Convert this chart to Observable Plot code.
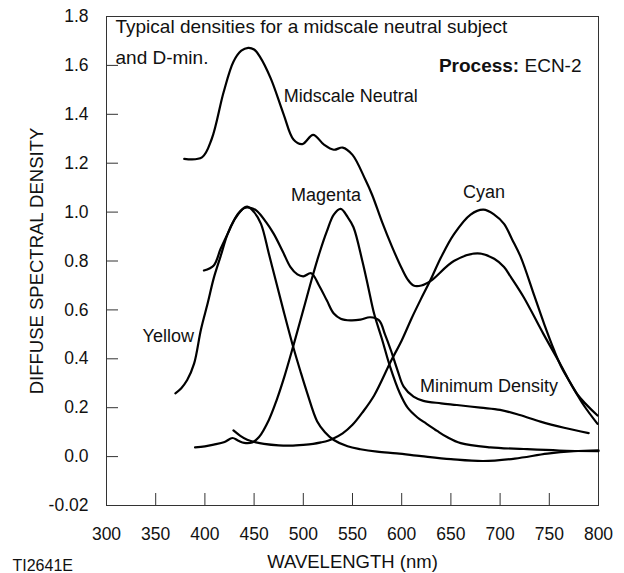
<!DOCTYPE html>
<html>
<head>
<meta charset="utf-8">
<script src="https://cdn.jsdelivr.net/npm/d3@7"></script>
<script src="https://cdn.jsdelivr.net/npm/@observablehq/plot@0.6"></script>
<style>
  body { margin: 0; background: #fff; }
</style>
</head>
<body>
<div id="chart"></div>
<script>
// Axis ticks and labels
const xTicks = [300, 350, 400, 450, 500, 550, 600, 650, 700, 750, 800];
const yTicks = [-0.2, 0, 0.2, 0.4, 0.6, 0.8, 1.0, 1.2, 1.4, 1.6, 1.8];
const yTickLabels = ["-0.02", "0.0", "0.2", "0.4", "0.6", "0.8", "1.0", "1.2", "1.4", "1.6", "1.8"];

// Series: wavelength (nm) and diffuse spectral density
const neutralNm = [379, 397, 407, 419, 429, 437, 444, 450, 456, 467, 480, 490, 499, 510, 521, 531, 540, 550, 563, 570, 580, 590, 600, 606, 612, 620, 630, 653, 677, 694, 704, 711, 724, 744, 761, 778, 799];
const neutralD  = [1.218, 1.224, 1.30, 1.49, 1.615, 1.66, 1.672, 1.665, 1.635, 1.546, 1.40, 1.297, 1.278, 1.316, 1.276, 1.255, 1.264, 1.234, 1.133, 1.07, 0.96, 0.86, 0.77, 0.725, 0.70, 0.70, 0.72, 0.80, 0.831, 0.809, 0.775, 0.734, 0.652, 0.502, 0.38, 0.257, 0.168];

const dminNm = [399, 409, 416, 423, 431, 440, 447, 453, 462, 470, 479, 487, 494, 500, 508, 516, 524, 531, 538, 548, 558, 568, 577, 583, 589, 596, 602, 612, 622, 640, 656, 680, 700, 720, 741, 765, 790];
const dminD  = [0.761, 0.782, 0.85, 0.91, 0.975, 1.017, 1.017, 1.004, 0.96, 0.911, 0.84, 0.775, 0.745, 0.737, 0.75, 0.70, 0.638, 0.585, 0.564, 0.557, 0.56, 0.57, 0.557, 0.50, 0.435, 0.35, 0.286, 0.245, 0.228, 0.218, 0.211, 0.20, 0.191, 0.17, 0.143, 0.118, 0.096];

const yellowNm = [370, 376, 382, 389, 396, 403, 409, 416, 423, 430, 436, 443, 450, 457, 465, 472, 480, 490, 497, 504, 514, 522, 531, 545, 558, 575, 595, 620, 650, 683, 715, 748, 775, 800];
const yellowD  = [0.259, 0.28, 0.313, 0.38, 0.52, 0.63, 0.73, 0.82, 0.91, 0.97, 1.004, 1.022, 1.0, 0.952, 0.83, 0.72, 0.595, 0.445, 0.35, 0.26, 0.145, 0.10, 0.068, 0.042, 0.03, 0.02, 0.013, 0.002, -0.01, -0.018, -0.008, 0.012, 0.022, 0.026];

const magentaNm = [390, 400, 409, 420, 428, 434, 440, 448, 455, 465, 473, 481, 490, 500, 510, 517, 524, 531, 538, 545, 551, 560, 566, 572, 580, 588, 598, 606, 616, 625, 636, 646, 660, 690, 724, 760, 800];
const magentaD  = [0.038, 0.042, 0.049, 0.06, 0.076, 0.065, 0.056, 0.058, 0.08, 0.15, 0.232, 0.33, 0.455, 0.60, 0.746, 0.84, 0.922, 0.99, 1.013, 0.98, 0.938, 0.80, 0.693, 0.584, 0.48, 0.37, 0.26, 0.20, 0.16, 0.135, 0.105, 0.08, 0.055, 0.038, 0.031, 0.025, 0.022];

const cyanNm = [429, 436, 443, 452, 460, 475, 487, 500, 510, 518, 525, 531, 540, 550, 560, 572, 589, 600, 610, 619, 629, 640, 653, 670, 683, 694, 704, 712, 721, 735, 745, 755, 763, 772, 785, 799];
const cyanD  = [0.107, 0.085, 0.069, 0.058, 0.052, 0.046, 0.045, 0.048, 0.052, 0.058, 0.065, 0.075, 0.095, 0.13, 0.18, 0.25, 0.39, 0.475, 0.565, 0.64, 0.72, 0.815, 0.909, 0.99, 1.01, 0.99, 0.952, 0.89, 0.816, 0.655, 0.54, 0.434, 0.36, 0.298, 0.21, 0.134];

// Curve labels (text, wavelength, density at baseline)
const curveLabels = ["Midscale Neutral", "Magenta", "Cyan", "Yellow", "Minimum Density"];
const curveLabelNm = [480.2, 487.4, 662.4, 336.7, 618.7];
const curveLabelD = [1.452, 1.047, 1.056, 0.468, 0.263];

const seriesList = [
  ["Midscale Neutral", neutralNm, neutralD],
  ["Minimum Density", dminNm, dminD],
  ["Yellow", yellowNm, yellowD],
  ["Magenta", magentaNm, magentaD],
  ["Cyan", cyanNm, cyanD]
];
const rows = seriesList.flatMap(([name, xs, ys]) => xs.map((x, i) => ({series: name, nm: x, d: ys[i]})));
const labelRows = curveLabels.map((t, i) => ({text: t, nm: curveLabelNm[i], d: curveLabelD[i]}));

const font = "'Liberation Sans', Arial, Helvetica, sans-serif";

const chart = Plot.plot({
  width: 624,
  height: 573,
  marginLeft: 106,
  marginRight: 26,
  marginTop: 16,
  marginBottom: 68,
  style: {fontFamily: font, fontSize: "17.5px", background: "#fff", color: "#111"},
  x: {domain: [300, 800]},
  y: {domain: [-0.2, 1.8]},
  marks: [
    Plot.frame({stroke: "#333", strokeWidth: 1}),
    Plot.axisX({ticks: xTicks, tickSize: 0, tickPadding: 22, fontSize: 17.5, label: null, tickFormat: d => String(d), fill: "#111"}),
    Plot.axisX({ticks: xTicks, tickSize: -12, text: null, label: null, stroke: "#333"}),
    Plot.axisY({ticks: yTicks, tickSize: 0, tickPadding: 18, fontSize: 17.5, label: null, fill: "#111",
      tickFormat: d => yTickLabels[yTicks.indexOf(d)]}),
    Plot.axisY({ticks: yTicks, tickSize: -12, text: null, label: null, stroke: "#333"}),
    Plot.line(rows, {x: "nm", y: "d", z: "series", curve: "catmull-rom", stroke: "#000", strokeWidth: 2.2}),
    Plot.text(labelRows, {x: "nm", y: "d", text: "text", textAnchor: "start", lineAnchor: "bottom", fontSize: 18, fill: "#111"}),
    Plot.text(["Typical densities for a midscale neutral subject"], {text: d => d, frameAnchor: "top-left", dx: 9, dy: 16.5, textAnchor: "start", lineAnchor: "bottom", fontSize: 19, fill: "#111"}),
    Plot.text(["and D-min."], {text: d => d, frameAnchor: "top-left", dx: 9, dy: 47, textAnchor: "start", lineAnchor: "bottom", fontSize: 19, fill: "#111"}),
    Plot.text(["ECN-2"], {text: d => d, frameAnchor: "top-right", dx: -17, dy: 55.7, textAnchor: "end", lineAnchor: "bottom", fontSize: 19, fill: "#111"}),
    Plot.text(["Process:"], {text: d => d, frameAnchor: "top-right", dx: -79.3, dy: 55.7, textAnchor: "end", lineAnchor: "bottom", fontSize: 19, fontWeight: "bold", fill: "#111"}),
    Plot.text(["DIFFUSE SPECTRAL DENSITY"], {text: d => d, frameAnchor: "left", dx: -69, rotate: -90, textAnchor: "middle", lineAnchor: "middle", fontSize: 18.5, fill: "#111"}),
    Plot.text(["WAVELENGTH (nm)"], {text: d => d, frameAnchor: "bottom", dy: 62, textAnchor: "middle", lineAnchor: "bottom", fontSize: 18.5, fill: "#111"}),
    Plot.text(["TI2641E"], {text: d => d, frameAnchor: "bottom-left", dx: -94, dy: 65, textAnchor: "start", lineAnchor: "bottom", fontSize: 16, fill: "#111"})
  ]
});
document.getElementById("chart").appendChild(chart);
</script>
</body>
</html>
